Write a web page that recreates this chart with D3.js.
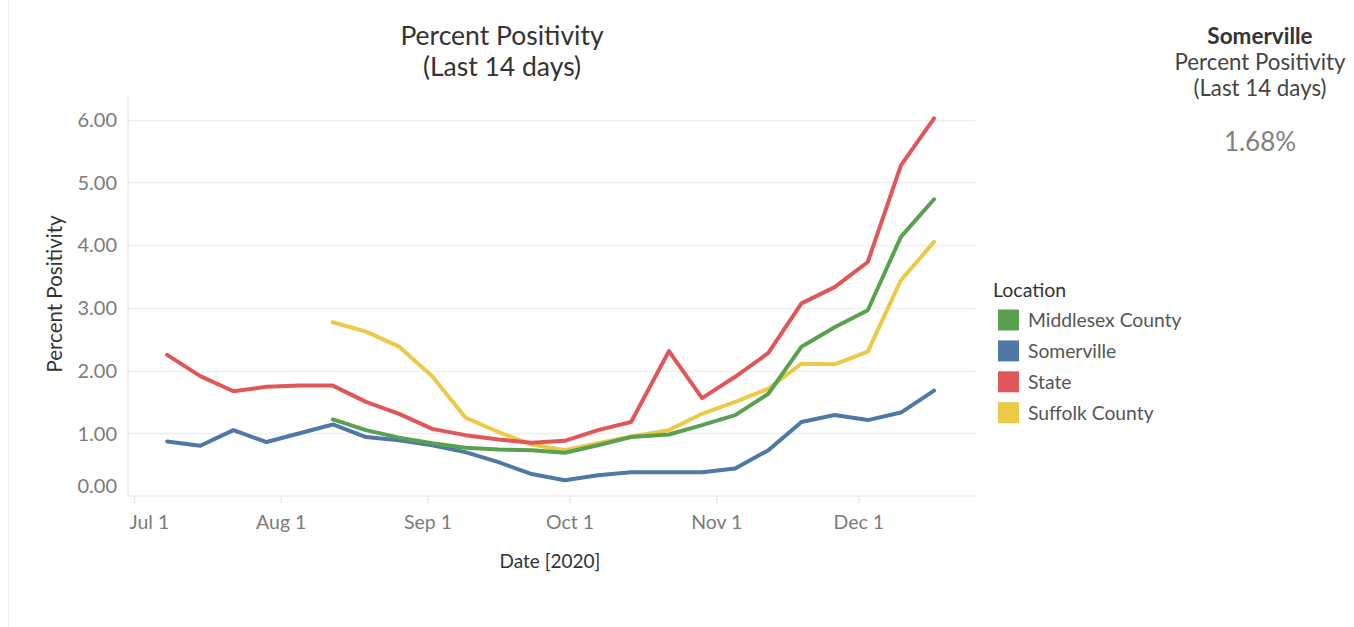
<!DOCTYPE html>
<html>
<head>
<meta charset="utf-8">
<script src="https://cdn.jsdelivr.net/npm/d3@7"></script>
<style>
  html, body { margin: 0; padding: 0; background: #fff; }
  svg { display: block; font-family: Lato, "Open Sans", sans-serif; }
</style>
</head>
<body>
<svg id="chart" width="1354" height="627"></svg>
<script>
// weekly report dates (Wednesdays, then Thursdays from late Oct)
const dates = [
  '2020-07-08', '2020-07-15', '2020-07-22', '2020-07-29', '2020-08-05', '2020-08-12',
  '2020-08-19', '2020-08-26', '2020-09-02', '2020-09-09', '2020-09-16', '2020-09-23',
  '2020-09-30', '2020-10-07', '2020-10-14', '2020-10-22', '2020-10-29', '2020-11-05',
  '2020-11-12', '2020-11-19', '2020-11-26', '2020-12-03', '2020-12-10', '2020-12-17'
];

const somerville = [0.87, 0.80, 1.05, 0.86, 1.00, 1.14, 0.94, 0.89, 0.81, 0.70, 0.54, 0.35,
  0.25, 0.33, 0.38, 0.38, 0.38, 0.44, 0.73, 1.18, 1.29, 1.21, 1.33, 1.68];
const state = [2.25, 1.91, 1.67, 1.74, 1.76, 1.76, 1.50, 1.31, 1.07, 0.97, 0.90, 0.85,
  0.88, 1.05, 1.18, 2.31, 1.56, 1.90, 2.28, 3.07, 3.33, 3.73, 5.27, 6.02];
const middlesex = [null, null, null, null, null, 1.22, 1.05, 0.93, 0.84, 0.77, 0.74, 0.73,
  0.69, 0.81, 0.94, 0.98, 1.13, 1.29, 1.63, 2.38, 2.69, 2.96, 4.13, 4.73];
const suffolk = [null, null, null, null, null, 2.77, 2.62, 2.38, 1.91, 1.25, 1.02, 0.82,
  0.73, 0.84, 0.95, 1.05, 1.31, 1.50, 1.71, 2.11, 2.10, 2.30, 3.44, 4.05];

const locations = ['Middlesex County', 'Somerville', 'State', 'Suffolk County'];
const colors = ['#59a14f', '#4e79a7', '#e15759', '#edc948'];
const seriesValues = [middlesex, somerville, state, suffolk];

const yTicks = [0, 1, 2, 3, 4, 5, 6];
const xTickDates = ['2020-07-01', '2020-08-01', '2020-09-01', '2020-10-01', '2020-11-01', '2020-12-01'];
const kpiValue = '1.68%';

const svg = d3.select('#chart');
const parse = d3.utcParse('%Y-%m-%d');

const plot = { left: 128, right: 975, top: 97, bottom: 496 };

const xScale = d3.scaleUtc()
  .domain([parse('2020-07-01'), parse('2020-12-01')])
  .range([134, 858.3]);

const yScale = d3.scaleLinear()
  .domain([0, 6.36])
  .range([plot.bottom, plot.top]);

// page border
svg.append('line')
  .attr('x1', 8.5).attr('x2', 8.5).attr('y1', 0).attr('y2', 627)
  .attr('stroke', '#ececec');

// Titles
const title = svg.append('text')
  .attr('text-anchor', 'middle')
  .attr('fill', '#333')
  .style('font-size', '26.5px');
title.append('tspan').attr('x', 502).attr('y', 45).text('Percent Positivity');
title.append('tspan').attr('x', 502).attr('y', 76).text('(Last 14 days)');

// gridlines
const g = svg.append('g');
g.selectAll('.grid')
  .data(yTicks.filter(d => d > 0))
  .enter()
  .append('line')
  .attr('class', 'grid')
  .attr('x1', plot.left).attr('x2', plot.right)
  .attr('y1', d => Math.round(yScale(d)) + 0.5)
  .attr('y2', d => Math.round(yScale(d)) + 0.5)
  .attr('stroke', '#f0f0f0')
  .attr('stroke-width', 1.5);

// axis baseline + vertical axis line
g.append('line')
  .attr('x1', plot.left).attr('x2', plot.right)
  .attr('y1', plot.bottom).attr('y2', plot.bottom)
  .attr('stroke', '#ebebeb').attr('stroke-width', 1.5);
g.append('line')
  .attr('x1', plot.left).attr('x2', plot.left)
  .attr('y1', plot.top).attr('y2', plot.bottom)
  .attr('stroke', '#ebebeb').attr('stroke-width', 1.5);

// Y axis labels
const yAxis = svg.append('g')
  .attr('transform', `translate(${plot.left},0)`)
  .call(d3.axisLeft(yScale).tickValues(yTicks).tickFormat(d3.format('.2f')).tickSize(0).tickPadding(11));
yAxis.select('.domain').remove();
yAxis.selectAll('text')
  .attr('fill', '#7b7b7b')
  .style('font-family', 'Lato, sans-serif')
  .style('font-size', '20px')
  .attr('dy', d => d === 0 ? '-0.2em' : '0.34em');

// X axis
const xAxis = svg.append('g')
  .attr('transform', `translate(0,${plot.bottom})`)
  .call(d3.axisBottom(xScale)
    .tickValues(xTickDates.map(parse))
    .tickFormat(d3.utcFormat('%b %-d'))
    .tickSize(7)
    .tickPadding(12));
xAxis.select('.domain').remove();
xAxis.selectAll('line').attr('stroke', '#e6e6e6').attr('stroke-width', 1.5);
xAxis.selectAll('text')
  .attr('fill', '#7b7b7b')
  .style('font-family', 'Lato, sans-serif')
  .style('font-size', '19.5px');
// first label is pushed right so it stays inside the pane
xAxis.selectAll('text').filter((d, i) => i === 0)
  .attr('text-anchor', 'start')
  .attr('x', plot.left + 1 - xScale(parse(xTickDates[0])));

// axis titles
svg.append('text')
  .attr('x', 550).attr('y', 568)
  .attr('text-anchor', 'middle')
  .attr('fill', '#333')
  .style('font-size', '19px')
  .text('Date [2020]');

svg.append('text')
  .attr('transform', 'translate(62,294) rotate(-90)')
  .attr('text-anchor', 'middle')
  .attr('fill', '#333')
  .style('font-size', '20.5px')
  .text('Percent Positivity');

// lines
const line = d3.line()
  .defined(d => d.v != null)
  .x(d => xScale(d.date))
  .y(d => yScale(d.v));

const drawOrder = [1, 3, 0, 2]; // Somerville, Suffolk, Middlesex, State
drawOrder.forEach(i => {
  const pts = dates.map((d, k) => ({ date: parse(d), v: seriesValues[i][k] }));
  svg.append('path')
    .datum(pts)
    .attr('fill', 'none')
    .attr('stroke', colors[i])
    .attr('stroke-width', 4)
    .attr('stroke-linejoin', 'round')
    .attr('stroke-linecap', 'round')
    .attr('d', line);
});

// legend
const legend = svg.append('g').attr('transform', 'translate(993,0)');
legend.append('text')
  .attr('x', 0).attr('y', 297)
  .attr('fill', '#333')
  .style('font-size', '19.5px')
  .text('Location');

const rows = legend.selectAll('.row')
  .data(locations)
  .enter()
  .append('g')
  .attr('class', 'row')
  .attr('transform', (d, i) => `translate(0,${320 + i * 30.9})`);
rows.append('rect')
  .attr('x', 5).attr('y', -10.5)
  .attr('width', 21).attr('height', 21)
  .attr('fill', (d, i) => colors[i]);
rows.append('text')
  .attr('x', 35).attr('y', 7)
  .attr('fill', '#555')
  .style('font-size', '19.3px')
  .text(d => d);

// KPI block
const kpi = svg.append('g').attr('text-anchor', 'middle');
kpi.append('text')
  .attr('x', 1260).attr('y', 44)
  .attr('fill', '#333')
  .style('font-size', '22.5px')
  .style('font-weight', 'bold')
  .text('Somerville');
kpi.append('text')
  .attr('x', 1260).attr('y', 70)
  .attr('fill', '#444')
  .style('font-size', '22.3px')
  .text('Percent Positivity');
kpi.append('text')
  .attr('x', 1260).attr('y', 96)
  .attr('fill', '#444')
  .style('font-size', '22.3px')
  .text('(Last 14 days)');
kpi.append('text')
  .attr('x', 1260).attr('y', 151)
  .attr('fill', '#808080')
  .style('font-size', '26px')
  .text(kpiValue);
</script>
</body>
</html>
